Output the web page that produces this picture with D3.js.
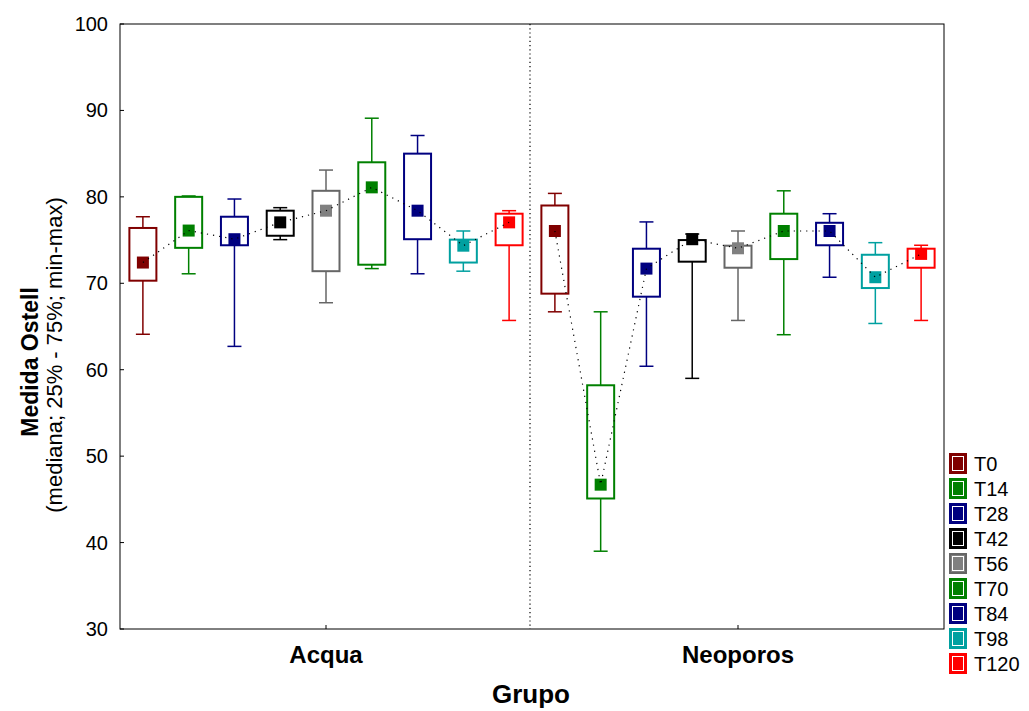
<!DOCTYPE html>
<html>
<head>
<meta charset="utf-8">
<script src="https://d3js.org/d3.v7.min.js"></script>
<style>
  body { margin: 0; background: #fff; }
  text { font-family: Arial, "Liberation Sans", sans-serif; }
</style>
</head>
<body>
<svg width="1029" height="711"></svg>
<script>
// groups and time points
var grupos = ["Acqua", "Neoporos"];
var tempos = ["T0", "T14", "T28", "T42", "T56", "T70", "T84", "T98", "T120"];
var cores = ["#800000", "#008000", "#000080", "#000000", "#808080", "#008000", "#000080", "#00a0a0", "#ff0000"];
var bordas = ["#800000", "#008000", "#000080", "#000000", "#666666", "#008000", "#000080", "#00a0a0", "#ff0000"];

// values per group, in tempos order
var minAcqua = [64.1, 71.1, 62.7, 75.05, 67.75, 71.7, 71.1, 71.4, 65.7];
var q1Acqua = [70.3, 74.1, 74.4, 75.5, 71.4, 72.15, 75.1, 72.4, 74.4];
var medAcqua = [72.4, 76.1, 75.1, 77.05, 78.4, 81.1, 78.4, 74.35, 77.05];
var q3Acqua = [76.4, 80.0, 77.7, 78.4, 80.7, 84.0, 85.0, 75.05, 78.05];
var maxAcqua = [77.7, 80.1, 79.75, 78.75, 83.1, 89.1, 87.1, 76.05, 78.4];

var minNeo = [66.7, 39.0, 60.4, 59.0, 65.7, 64.05, 70.7, 65.35, 65.7];
var q1Neo = [68.8, 45.1, 68.45, 72.5, 71.8, 72.8, 74.4, 69.45, 71.8];
var medNeo = [76.05, 46.7, 71.7, 75.1, 74.05, 76.05, 76.05, 70.7, 73.4];
var q3Neo = [79.0, 58.2, 74.0, 75.0, 74.35, 78.05, 77.0, 73.3, 74.0];
var maxNeo = [80.4, 66.7, 77.1, 75.7, 76.05, 80.7, 78.05, 74.7, 74.4];

var yTicks = [30, 40, 50, 60, 70, 80, 90, 100];

function montar(mn, q1, md, q3, mx) {
  return tempos.map(function(t, i) {
    return {tempo: t, i: i, min: mn[i], q1: q1[i], med: md[i], q3: q3[i], max: mx[i]};
  });
}
var dados = [
  {grupo: "Acqua", caixas: montar(minAcqua, q1Acqua, medAcqua, q3Acqua, maxAcqua)},
  {grupo: "Neoporos", caixas: montar(minNeo, q1Neo, medNeo, q3Neo, maxNeo)}
];

var svg = d3.select("svg");
var pLeft = 120, pRight = 944, pTop = 24, pBottom = 629;

var x = d3.scaleBand().domain(grupos).range([pLeft, pRight]);
var xi = d3.scaleBand().domain(tempos).range([0, x.bandwidth()]);
var y = d3.scaleLinear().domain([30, 100]).range([pBottom, pTop]);

var boxW = 27, capW = 14, mq = 12;

// frame
svg.append("rect")
  .attr("x", pLeft).attr("y", pTop)
  .attr("width", pRight - pLeft).attr("height", pBottom - pTop)
  .attr("fill", "none").attr("stroke", "#000").attr("stroke-width", 1);

// y axis ticks inward
var yAxis = svg.append("g");
yAxis.selectAll("line").data(yTicks).enter().append("line")
  .attr("x1", pLeft).attr("x2", pLeft + 4)
  .attr("y1", function(d){ return y(d); }).attr("y2", function(d){ return y(d); })
  .attr("stroke", "#000");
yAxis.selectAll("text").data(yTicks).enter().append("text")
  .attr("x", pLeft - 12).attr("y", function(d){ return y(d); })
  .attr("dy", "0.35em").attr("text-anchor", "end")
  .attr("font-size", 20).text(function(d){ return d; });

// x ticks and labels
var xAxis = svg.append("g");
xAxis.selectAll("line").data(grupos).enter().append("line")
  .attr("x1", function(d){ return x(d) + x.bandwidth() / 2; })
  .attr("x2", function(d){ return x(d) + x.bandwidth() / 2; })
  .attr("y1", pBottom).attr("y2", pBottom - 4)
  .attr("stroke", "#000");
xAxis.selectAll("text").data(grupos).enter().append("text")
  .attr("x", function(d){ return x(d) + x.bandwidth() / 2; })
  .attr("y", 663).attr("text-anchor", "middle")
  .attr("font-size", 24).attr("font-weight", "bold")
  .text(function(d){ return d; });

// divider between groups
svg.append("line")
  .attr("x1", x("Neoporos") - 2).attr("x2", x("Neoporos") - 2)
  .attr("y1", pTop).attr("y2", pBottom)
  .attr("stroke", "#000").attr("stroke-width", 1.2)
  .attr("stroke-dasharray", "1.2,3");

// titles
svg.append("text")
  .attr("x", 531).attr("y", 703).attr("text-anchor", "middle")
  .attr("font-size", 26).attr("font-weight", "bold").text("Grupo");
svg.append("text")
  .attr("transform", "translate(38,362) rotate(-90)")
  .attr("text-anchor", "middle")
  .attr("font-size", 23).attr("font-weight", "bold").text("Medida Ostell");
svg.append("text")
  .attr("transform", "translate(62,355) rotate(-90)")
  .attr("text-anchor", "middle")
  .attr("font-size", 22).text("(mediana; 25% - 75%; min-max)");

// boxes
var grp = svg.selectAll(".grupo").data(dados).enter().append("g")
  .attr("class", "grupo")
  .attr("transform", function(d){ return "translate(" + x(d.grupo) + ",0)"; });

function cx(d){ return xi(d.tempo) + xi.bandwidth() / 2; }

var cx0 = grp.selectAll(".caixa").data(function(d){ return d.caixas; }).enter().append("g")
  .attr("class", "caixa");

cx0.append("line")
  .attr("x1", cx).attr("x2", cx)
  .attr("y1", function(d){ return y(d.max); }).attr("y2", function(d){ return y(d.min); })
  .attr("stroke", function(d){ return bordas[d.i]; }).attr("stroke-width", 1.5);
cx0.append("line")
  .attr("x1", function(d){ return cx(d) - capW / 2; }).attr("x2", function(d){ return cx(d) + capW / 2; })
  .attr("y1", function(d){ return y(d.max); }).attr("y2", function(d){ return y(d.max); })
  .attr("stroke", function(d){ return bordas[d.i]; }).attr("stroke-width", 1.5);
cx0.append("line")
  .attr("x1", function(d){ return cx(d) - capW / 2; }).attr("x2", function(d){ return cx(d) + capW / 2; })
  .attr("y1", function(d){ return y(d.min); }).attr("y2", function(d){ return y(d.min); })
  .attr("stroke", function(d){ return bordas[d.i]; }).attr("stroke-width", 1.5);
cx0.append("rect")
  .attr("x", function(d){ return cx(d) - boxW / 2; })
  .attr("y", function(d){ return y(d.q3); })
  .attr("width", boxW)
  .attr("height", function(d){ return y(d.q1) - y(d.q3); })
  .attr("fill", "#fff")
  .attr("stroke", function(d){ return bordas[d.i]; }).attr("stroke-width", 2);

// dotted line through medians
grp.append("path")
  .attr("d", function(d){
    return d3.line().x(cx).y(function(c){ return y(c.med); })(d.caixas);
  })
  .attr("fill", "none").attr("stroke", "#000").attr("stroke-width", 1.2)
  .attr("stroke-dasharray", "1.2,5");

cx0.append("rect")
  .attr("x", function(d){ return cx(d) - mq / 2; })
  .attr("y", function(d){ return y(d.med) - mq / 2; })
  .attr("width", mq).attr("height", mq)
  .attr("fill", function(d){ return cores[d.i]; });

// legend
var leg = svg.append("g").selectAll("g").data(tempos).enter().append("g")
  .attr("transform", function(d, i){ return "translate(950," + (454 + i * 25) + ")"; });
leg.append("rect")
  .attr("x", 0).attr("y", 0).attr("width", 16).attr("height", 19)
  .attr("fill", function(d, i){ return cores[i]; })
  .attr("stroke", function(d, i){ return bordas[i]; }).attr("stroke-width", 2);
leg.append("rect")
  .attr("x", 2.5).attr("y", 2.5).attr("width", 11).attr("height", 14)
  .attr("fill", "none").attr("stroke", "#fff").attr("stroke-width", 1);
leg.append("text")
  .attr("x", 24).attr("y", 16.5)
  .attr("font-size", 20).text(function(d){ return d; });
</script>
</body>
</html>
